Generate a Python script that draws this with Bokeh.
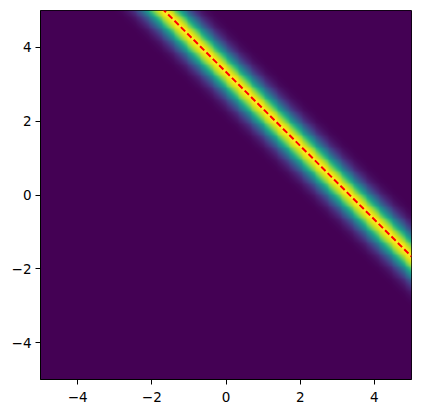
import numpy as np
from bokeh.plotting import figure
from bokeh.models import FixedTicker, Range1d
from bokeh.palettes import Viridis256
from bokeh.embed import file_html
from bokeh.resources import INLINE

# Data description
x_range = [-5, 5]
y_range = [-5, 5]
line_intercept = 10 / 3      # line: y = intercept + slope * x
line_slope = -1.0
band_sigma = 0.42            # spread of band in (x + y) units
ticks = [-4, -2, 0, 2, 4]
tick_labels = ["\u22124", "\u22122", "0", "2", "4"]

n = 400
xs = np.linspace(x_range[0], x_range[1], n)
ys = np.linspace(y_range[0], y_range[1], n)
X, Y = np.meshgrid(xs, ys)
Z = np.exp(-((Y - line_slope * X - line_intercept) ** 2) / (2 * band_sigma ** 2))

p = figure(width=415, height=409, output_backend="svg", toolbar_location=None,
           x_range=Range1d(*x_range), y_range=Range1d(*y_range),
           frame_width=371, frame_height=369,
           min_border_left=40, min_border_top=10, min_border_right=4, min_border_bottom=10)
p.image(image=[Z], x=x_range[0], y=y_range[0], dw=x_range[1] - x_range[0],
        dh=y_range[1] - y_range[0], palette=Viridis256)
lx = np.array(x_range, dtype=float)
p.line(lx, line_intercept + line_slope * lx, line_color="red", line_width=2,
       line_dash="6 3")

p.grid.visible = False
p.outline_line_color = "black"
p.outline_line_width = 1
p.background_fill_color = "white"
for ax in (p.xaxis[0], p.yaxis[0]):
    ax.ticker = FixedTicker(ticks=ticks)
    ax.major_label_overrides = {t: l for t, l in zip(ticks, tick_labels)}
    ax.minor_tick_line_color = None
    ax.major_tick_out = 5
    ax.major_tick_in = 0
    ax.axis_line_color = "black"
    ax.major_label_text_font = "DejaVu Sans"
    ax.major_label_text_font_size = "13.5px"
    ax.major_label_text_color = "black"
    ax.major_label_standoff = 4
p.xaxis[0].major_label_standoff = 7
p.yaxis[0].major_label_orientation = "horizontal"

open("out.html", "w").write(file_html(p, INLINE))
